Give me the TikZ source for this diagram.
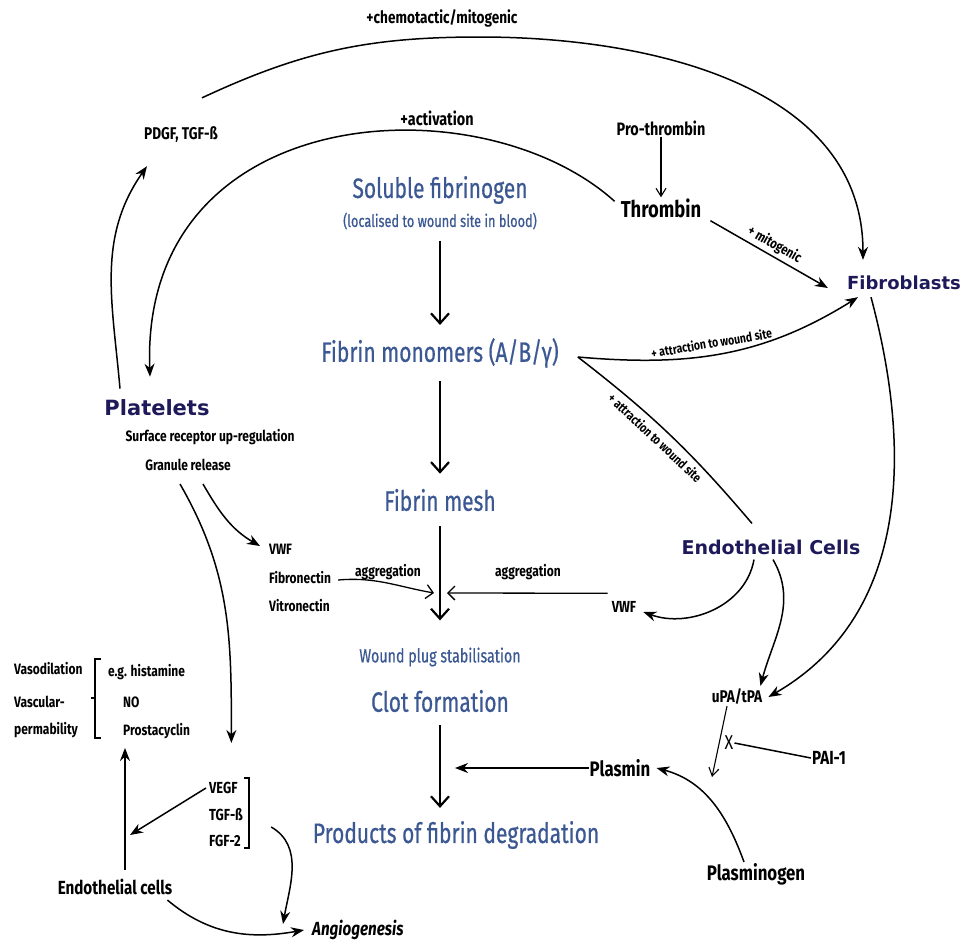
\documentclass[tikz,border=0pt]{standalone}
\usepackage{fontspec}
\usetikzlibrary{arrows.meta}
\newfontfamily\stagefont{Fira Sans}[FakeStretch=0.75,FakeBold=0.6]
\newfontfamily\lblfont{Fira Sans}[FakeStretch=0.8]
\newfontfamily\cellfont{DejaVu Sans}
\definecolor{fibblue}{HTML}{3B5893}
\definecolor{cellnavy}{HTML}{1E1A5A}
\begin{document}
\begin{tikzpicture}[x=1pt,y=-1pt,
  stage/.style={font=\stagefont\fontsize{#1}{#1}\selectfont, text=fibblue, inner sep=1pt},
  stage/.default=28,
  cell/.style={font=\cellfont\bfseries\fontsize{#1}{#1}\selectfont, text=cellnavy, inner sep=1pt},
  lbl/.style={font=\lblfont\bfseries\fontsize{#1}{#1}\selectfont, inner sep=1pt},
  lbl/.default=15,
  arr/.style={line width=1.5pt, -{Stealth[length=13pt,width=10pt]}},
  plain/.style={line width=1.5pt},
  thinarr/.style={line width=1.1pt, -{Straight Barb[length=8pt,width=10pt]}},
  mainarr/.style={line width=2.2pt, -{Straight Barb[length=10pt,width=18pt]}},
  aggarr/.style={line width=1.3pt, -{Straight Barb[length=7pt,width=14pt]}}]
\useasboundingbox (0,0) rectangle (961,943);

\node[stage] (sol) at (440,190) {Soluble fibrinogen};
\node[stage=17] (loc) at (440,221) {(localised to wound site in blood)};
\node[stage] (mono) at (440,353) {Fibrin monomers (A/B/γ)};
\node[stage] (mesh) at (440,500) {Fibrin mesh};
\node[stage=19] (plug) at (440,657) {Wound plug stabilisation};
\node[stage] (clot) at (440,701) {Clot formation};
\node[stage] (prod) at (456,835) {Products of fibrin degradation};

\node[cell=21] (plt) at (157,408) {Platelets};
\node[cell=18] (fibro) at (904,283) {Fibroblasts};
\node[cell=19] (endo) at (771,547) {Endothelial Cells};

\node[lbl=17] (chem) at (442,18) {+chemotactic/mitogenic};
\node[lbl=17] (pdgf) at (181,135) {PDGF, TGF-ß};
\node[lbl=18] (act) at (437,118) {+activation};
\node[lbl=18] (pro) at (661,128) {Pro-thrombin};
\node[lbl=23] (thr) at (661,208) {Thrombin};
\node[lbl] (surf) at (210,437) {Surface receptor up-regulation};
\node[lbl] (gran) at (188,465) {Granule release};
\node[lbl,anchor=west] (vwfa) at (268,549) {VWF};
\node[lbl,anchor=west] (fibn) at (268,578) {Fibronectin};
\node[lbl,anchor=west] (vitn) at (268,606) {Vitronectin};
\node[lbl] (aggl) at (388,572) {aggregation};
\node[lbl] (aggr) at (528,572) {aggregation};
\node[lbl=16] (vwfb) at (624,607) {VWF};
\node[lbl=17] (upa) at (737,697) {uPA/tPA};
\node[lbl=19] (pai) at (829,758) {PAI-1};
\node[lbl=21] (plasmin) at (620,768) {Plasmin};
\node[lbl=21] (plg) at (756,874) {Plasminogen};
\node[lbl,anchor=west] (vaso) at (13,669) {Vasodilation};
\node[lbl,anchor=west] (vasc) at (13,702) {Vascular-};
\node[lbl,anchor=west] (perm) at (13,730) {permability};
\node[lbl,anchor=west] (hist) at (107,672) {e.g. histamine};
\node[lbl,anchor=west] (no) at (122,702) {NO};
\node[lbl,anchor=west] (prost) at (122,731) {Prostacyclin};
\node[lbl=16,anchor=west] (vegf) at (208,788) {VEGF};
\node[lbl=16,anchor=west] (tgf) at (208,815) {TGF-ß};
\node[lbl=16,anchor=west] (fgf) at (208,841) {FGF-2};
\node[lbl=19] (endoc) at (115,887) {Endothelial cells};
\node[lbl=19,anchor=west] (angio) at (311,930) {\itshape Angiogenesis};
\node[font=\lblfont\fontsize{20}{20}\selectfont, inner sep=1pt] (xmark) at (729,743) {X};

\coordinate (aggL) at (434,593);
\coordinate (aggR) at (447,593);
\coordinate (plend) at (455,768);
\coordinate (upaend) at (712,777);
\coordinate (vline) at (130,835);

\draw[mainarr] ([yshift=-10pt]loc.south) -- ([yshift=12pt]mono.north);
\draw[mainarr] ([yshift=-12pt]mono.south) -- ([yshift=14pt]mesh.north);
\draw[mainarr] ([yshift=-14pt]mesh.south) -- ([yshift=26pt]plug.north);
\draw[mainarr] ([yshift=-12pt]clot.south) -- ([yshift=12pt]clot.south |- prod.north);
\draw[aggarr] ([xshift=6pt,yshift=-2pt]fibn.east) to[out=5,in=170] (aggL);
\draw[aggarr] ([xshift=-3pt,yshift=7pt]vwfb.north west) -- (aggR);
\draw[arr] (plasmin.west) -- (plend);

\draw[thinarr] (pro.south) -- (thr.north);
\draw[arr] ([xshift=8pt,yshift=-2pt]thr.south east) -- ([xshift=-18pt,yshift=-5pt]fibro.west)
  node[midway,above=2pt,sloped,lbl=14] {+ mitogenic};
\draw[arr] ([xshift=-5pt,yshift=-4pt]thr.north west) .. controls (480,80) and (140,100) .. ([xshift=-7pt,yshift=22pt]plt.north);
\draw[arr] ([xshift=21pt,yshift=28pt]pdgf.north) to[out=25,in=180] (480,37) to[out=0,in=90] ([xshift=-41pt,yshift=15pt]fibro.north);
\draw[arr] ([xshift=-37pt,yshift=10pt]plt.north) to[out=95,in=235] ([xshift=-34pt,yshift=-22pt]pdgf.south);

\draw[arr] ([xshift=18pt,yshift=-4pt]mono.east) to[out=-5,in=212]
  node[pos=0.46,above=5pt,sloped,lbl=13] {+ attraction to wound site} ([xshift=-46pt,yshift=-6pt]fibro.south);
\draw[plain] ([xshift=18pt,yshift=-4pt]mono.east) to[bend left=6]
  node[pos=0.46,below=5pt,sloped,lbl=13] {+ attraction to wound site} ([xshift=-19pt,yshift=15pt]endo.north);
\draw[arr] ([xshift=-33pt,yshift=-6pt]fibro.south) to[out=-75,in=30] ([xshift=5pt]upa.east);
\draw[arr] ([xshift=2pt,yshift=-4pt]endo.south) to[out=-60,in=75] ([xshift=-3pt,yshift=2pt]upa.north east);
\draw[arr] ([xshift=-17pt,yshift=-4pt]endo.south) to[out=-100,in=-20] ([xshift=6pt,yshift=-5pt]vwfb.east);

\draw[thinarr] ([xshift=-10pt]upa.south) -- (upaend);
\draw[plain] (pai.west) -- (xmark.east);
\draw[arr] ([xshift=-12pt]plg.north) to[out=110,in=-15] ([xshift=5pt]plasmin.east);

\draw[arr] ([xshift=15pt,yshift=-12pt]gran.south) to[out=-60,in=150] ([xshift=-8pt,yshift=3pt]vwfa.west);
\draw[arr] ([xshift=-8pt,yshift=-12pt]gran.south) to[out=-60,in=90] ([xshift=8pt,yshift=38pt]vegf.north);
\draw[arr] ([xshift=-2pt]vegf.west) -- (vline);
\draw[arr] ([xshift=10pt,yshift=8pt]endoc.north) -- ([xshift=3pt,yshift=-8pt]prost.south west);
\draw[arr] ([xshift=27pt,yshift=-12pt]tgf.east) to[out=-30,in=80] ([xshift=-28pt,yshift=-5pt]angio.north west);
\draw[arr] ([xshift=-6pt,yshift=-4pt]endoc.south east) to[out=-40,in=190] ([xshift=-7pt]angio.west);

\draw[line width=1.2pt] (101,659) -- (95,659) -- (95,738) -- (101,738) (95,698) -- (91,698);
\draw[line width=1.2pt] (244,778) -- (249,778) -- (249,848) -- (244,848);
\end{tikzpicture}
\end{document}
